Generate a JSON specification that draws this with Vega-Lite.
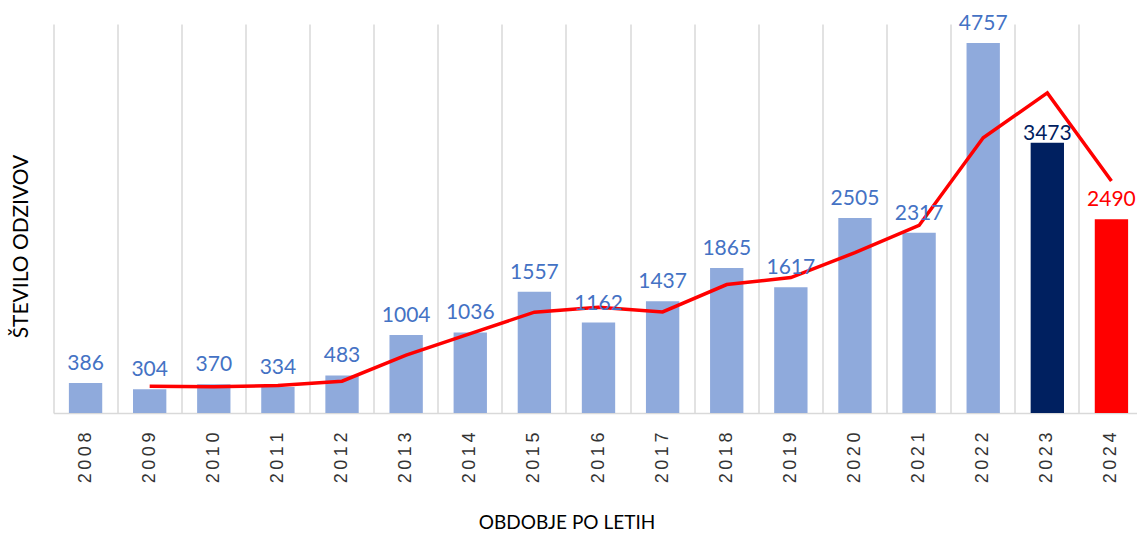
{
  "$schema": "https://vega.github.io/schema/vega-lite/v6.json",
  "width": 1083.5,
  "height": 389,
  "autosize": {"type": "none"},
  "padding": {"left": 53.5, "top": 24, "right": 0, "bottom": 120},
  "background": "white",
  "config": {"view": {"stroke": null}, "font": "Lato"},
  "data": {
    "values": [
      {"year": "2008", "count": 386, "trend": null, "group": "normal"},
      {"year": "2009", "count": 304, "trend": 345, "group": "normal"},
      {"year": "2010", "count": 370, "trend": 337, "group": "normal"},
      {"year": "2011", "count": 334, "trend": 352, "group": "normal"},
      {"year": "2012", "count": 483, "trend": 408.5, "group": "normal"},
      {"year": "2013", "count": 1004, "trend": 743.5, "group": "normal"},
      {"year": "2014", "count": 1036, "trend": 1020, "group": "normal"},
      {"year": "2015", "count": 1557, "trend": 1296.5, "group": "normal"},
      {"year": "2016", "count": 1162, "trend": 1359.5, "group": "normal"},
      {"year": "2017", "count": 1437, "trend": 1299.5, "group": "normal"},
      {"year": "2018", "count": 1865, "trend": 1651, "group": "normal"},
      {"year": "2019", "count": 1617, "trend": 1741, "group": "normal"},
      {"year": "2020", "count": 2505, "trend": 2061, "group": "normal"},
      {"year": "2021", "count": 2317, "trend": 2411, "group": "normal"},
      {"year": "2022", "count": 4757, "trend": 3537, "group": "normal"},
      {"year": "2023", "count": 3473, "trend": 4115, "group": "y2023"},
      {"year": "2024", "count": 2490, "trend": 2981.5, "group": "y2024"}
    ]
  },
  "encoding": {
    "x": {
      "field": "year",
      "type": "nominal",
      "scale": {"paddingInner": 0.48, "paddingOuter": 0.24, "range": [0, 1090]},
      "axis": {
        "bandPosition": -0.4615,
        "grid": true,
        "gridColor": "#d9d9d9",
        "gridWidth": 1.5,
        "domainColor": "#d9d9d9",
        "domainWidth": 1.5,
        "ticks": false,
        "labelAngle": 270,
        "labelPadding": 19,
        "labelFontSize": 18,
        "labelColor": "#333333",
        "labelFont": "Liberation Sans",
        "labelExpr": "join(split(datum.label, ''), '\u2009')",
        "title": "OBDOBJE PO LETIH",
        "titleFont": "Lato",
        "titleFontSize": 19,
        "titleFontWeight": "normal",
        "titleColor": "#000000",
        "titleX": 513,
        "titleY": 109,
        "titleBaseline": "middle",
        "titleAnchor": null
      }
    }
  },
  "layer": [
    {
      "mark": {"type": "bar"},
      "encoding": {
        "y": {
          "field": "count",
          "type": "quantitative",
          "scale": {"domain": [0, 5000], "nice": false},
          "axis": {
            "labels": false,
            "ticks": false,
            "domain": false,
            "grid": false,
            "title": "ŠTEVILO ODZIVOV",
            "titleFont": "Lato",
            "titleFontSize": 21,
            "titleFontWeight": "normal",
            "titleColor": "#000000",
            "titleX": -32,
            "titleY": 222,
            "titleBaseline": "middle",
            "titleAngle": 270
          }
        },
        "color": {
          "field": "group",
          "type": "nominal",
          "scale": {"domain": ["normal", "y2023", "y2024"], "range": ["#8FAADC", "#002060", "#FF0000"]},
          "legend": null
        }
      }
    },
    {
      "mark": {"type": "line", "color": "#FF0000", "strokeWidth": 3.5},
      "transform": [{"filter": "datum.trend != null"}],
      "encoding": {
        "y": {"field": "trend", "type": "quantitative"}
      }
    },
    {
      "transform": [{"filter": "datum.year != '2023'"}],
      "mark": {"type": "text", "baseline": "alphabetic", "dy": -13, "fontSize": 21, "font": "Lato"},
      "encoding": {
        "y": {"field": "count", "type": "quantitative"},
        "text": {"field": "count", "type": "quantitative"},
        "color": {
          "field": "group",
          "type": "nominal",
          "scale": {"domain": ["normal", "y2023", "y2024"], "range": ["#4472C4", "#002060", "#FF0000"]},
          "legend": null
        }
      }
    },
    {
      "transform": [{"filter": "datum.year == '2023'"}],
      "mark": {"type": "text", "baseline": "alphabetic", "dy": -3, "fontSize": 21, "font": "Lato"},
      "encoding": {
        "y": {"field": "count", "type": "quantitative"},
        "text": {"field": "count", "type": "quantitative"},
        "color": {"value": "#002060"}
      }
    }
  ],
  "resolve": {"scale": {"color": "independent"}}
}
